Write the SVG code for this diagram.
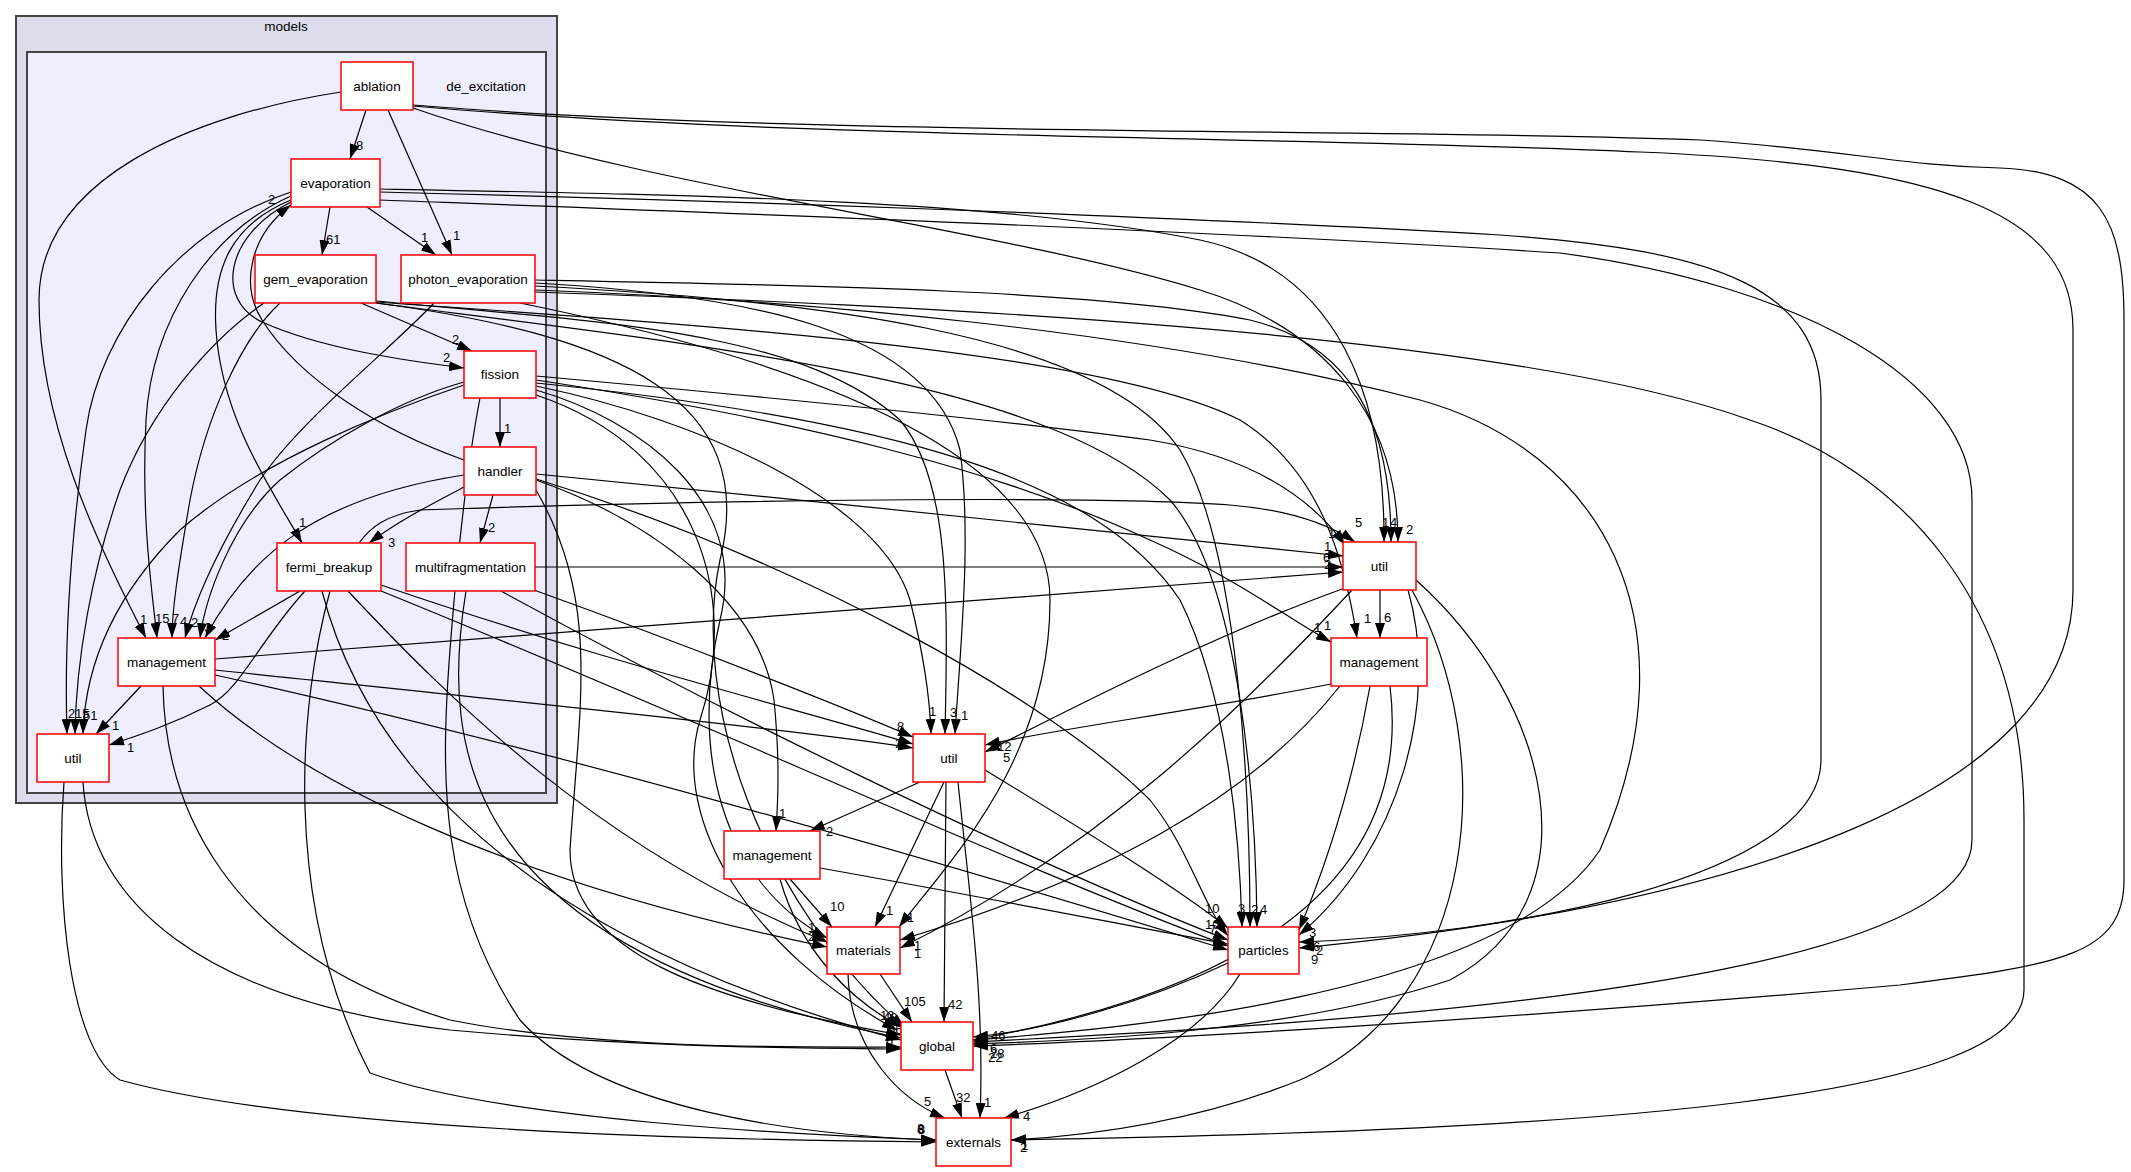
<svg xmlns="http://www.w3.org/2000/svg" width="2131" height="1172" viewBox="0 0 2131 1172">
<style>
.n rect{fill:#fff;stroke:#f00;stroke-width:1.5}
.n text,.cl{font-family:"Liberation Sans",Arial,sans-serif;font-size:13.5px;fill:#000;text-anchor:middle}
.e path{fill:none;stroke:#000;stroke-width:1.2;marker-end:url(#ah)}
.lb text{font-family:"Liberation Sans",Arial,sans-serif;font-size:13px;fill:#000}
</style>
<defs>
<marker id="ah" viewBox="0 0 15 10" refX="15" refY="5" markerWidth="15" markerHeight="10" markerUnits="userSpaceOnUse" orient="auto"><path d="M0,0L15,5L0,10z" fill="#000"/></marker>
</defs>
<rect width="2131" height="1172" fill="#fff"/>
<g id="cluster_models"><rect x="16" y="16" width="541" height="787" fill="#ddddee" stroke="#444" stroke-width="2"/><text class="cl" x="286" y="31">models</text></g>
<g id="cluster_de_excitation"><rect x="27" y="52" width="519" height="741" fill="#eeeeff" stroke="#444" stroke-width="2"/><text class="cl" x="486" y="91">de_excitation</text></g>

<g id="edges" class="e">
<path d="M366,110 L350,159"/>
<path d="M388,110 L452,255"/>
<path d="M341,92 C190,115 39,180 39,300 C39,420 95,540 146,638"/>
<path d="M413,108 C650,190 1000,228 1200,290 C1330,330 1398,420 1398,542"/>
<path d="M413,106 C800,140 1300,136 1640,152 C1950,165 2073,215 2073,330 L2073,590 C2073,790 1750,905 1299,948"/>
<path d="M413,105 C800,137 1400,128 1700,140 C1850,150 1900,166 2000,168 C2100,172 2124,220 2124,320 L2124,880 C2124,955 2060,965 1900,985 C1500,1020 1150,1040 973,1046"/>
<path d="M330,207 L322,255"/>
<path d="M367,207 L436,255"/>
<path d="M291,202 C225,235 215,300 262,322 C320,348 400,360 464,368"/>
<path d="M291,200 C230,225 212,270 216,330 C222,420 272,490 302,543"/>
<path d="M291,196 C210,232 152,320 146,420 C141,520 152,590 157,638"/>
<path d="M291,192 C180,228 100,330 86,430 C72,530 64,640 67,734"/>
<path d="M380,189 C700,195 1000,200 1200,240 C1340,270 1385,400 1384,542"/>
<path d="M380,192 C700,200 1150,215 1500,235 C1720,250 1821,290 1821,400 L1821,760 C1821,880 1500,935 1299,942"/>
<path d="M380,200 C700,212 1200,230 1560,253 C1800,285 1972,380 1972,500 L1972,840 C1972,990 1300,1025 973,1042"/>
<path d="M361,303 L472,351"/>
<path d="M280,303 C240,340 205,420 190,500 C178,570 172,610 172,638"/>
<path d="M264,303 C210,340 150,410 120,490 C92,570 76,660 75,734"/>
<path d="M376,301 C600,322 800,330 900,420 C950,480 948,600 945,734"/>
<path d="M376,302 C700,325 1100,350 1240,420 C1320,470 1345,560 1357,638"/>
<path d="M376,303 C700,345 1050,380 1170,500 C1240,580 1256,800 1257,927"/>
<path d="M376,303 C620,335 760,400 720,560 C690,700 760,900 905,1028"/>
<path d="M434,303 C390,350 300,420 260,480 C220,545 195,600 185,638"/>
<path d="M535,280 C800,285 1100,290 1250,320 C1350,345 1391,420 1391,542"/>
<path d="M535,283 C750,295 930,330 960,450 C972,540 960,650 955,734"/>
<path d="M535,286 C800,300 1100,330 1180,450 C1240,550 1250,800 1250,927"/>
<path d="M535,290 C800,300 1150,330 1420,400 C1600,450 1700,620 1600,850 C1500,1000 1100,1030 973,1040"/>
<path d="M535,292 C900,305 1500,330 1750,420 C1900,470 2024,600 2024,820 L2024,990 C2024,1100 1600,1130 1011,1140"/>
<path d="M520,303 C800,360 1050,450 1050,600 C1050,760 950,860 899,927"/>
<path d="M500,398 L500,447"/>
<path d="M464,382 C400,400 330,440 280,480 C230,525 205,600 200,638"/>
<path d="M464,385 C390,410 260,460 180,530 C110,600 85,670 83,734"/>
<path d="M536,376 C800,400 1000,420 1150,440 C1270,460 1320,510 1345,545"/>
<path d="M536,380 C800,420 1000,470 1150,540 C1240,580 1290,620 1331,642"/>
<path d="M536,386 C700,420 880,500 910,600 C925,660 930,700 931,734"/>
<path d="M536,383 C900,420 1100,480 1180,600 C1230,700 1240,850 1242,927"/>
<path d="M536,390 C640,420 750,500 720,620 C690,750 720,880 827,938"/>
<path d="M536,395 C700,450 740,600 700,720 C670,820 750,950 897,1030"/>
<path d="M480,398 C470,450 460,520 450,650 C440,780 440,900 520,1020 C600,1110 800,1135 936,1140"/>
<path d="M464,460 C380,430 300,380 262,320 C240,285 250,235 291,205"/>
<path d="M464,487 C430,505 400,520 369,543"/>
<path d="M493,495 L480,543"/>
<path d="M464,475 C320,497 250,553 205,638"/>
<path d="M536,474 C800,500 1100,530 1343,556"/>
<path d="M536,480 C650,520 760,600 774,700 C780,760 778,800 776,831"/>
<path d="M536,479 C800,560 1050,700 1150,800 C1190,850 1200,900 1228,936"/>
<path d="M536,490 C600,600 580,700 570,850 C570,950 700,1000 901,1035"/>
<path d="M359,543 C370,528 385,515 420,510 C700,500 1100,495 1230,505 C1290,510 1330,525 1355,542"/>
<path d="M300,591 L215,640"/>
<path d="M305,591 C260,640 240,690 210,705 C170,725 140,735 109,745"/>
<path d="M381,585 C600,660 800,710 913,744"/>
<path d="M381,591 C700,720 1000,860 1228,946"/>
<path d="M348,591 C450,700 600,850 827,942"/>
<path d="M322,591 C350,700 450,920 901,1040"/>
<path d="M330,591 C300,700 280,900 370,1073 C500,1120 800,1135 936,1140"/>
<path d="M535,567 L1343,567"/>
<path d="M534,590 C700,650 850,710 913,737"/>
<path d="M501,591 C700,700 1000,850 1228,940"/>
<path d="M466,591 C440,750 460,950 901,1038"/>
<path d="M141,686 L96,734"/>
<path d="M215,659 C600,630 1100,590 1343,572"/>
<path d="M215,670 C500,700 800,730 913,748"/>
<path d="M199,686 C300,780 500,880 827,947"/>
<path d="M215,675 C600,760 1000,880 1228,950"/>
<path d="M163,686 C165,800 220,950 450,1020 C600,1050 800,1047 901,1047"/>
<path d="M83,782 C90,900 200,1000 450,1030 C650,1048 800,1048 901,1049"/>
<path d="M64,782 C55,900 70,1050 120,1080 C300,1130 700,1140 936,1142"/>
<path d="M920,782 L810,831"/>
<path d="M944,782 L875,927"/>
<path d="M946,782 L944,1022"/>
<path d="M985,770 C1100,840 1180,890 1228,928"/>
<path d="M958,782 C970,900 985,1000 980,1118"/>
<path d="M1380,590 L1380,638"/>
<path d="M1345,588 C1200,640 1050,720 985,752"/>
<path d="M1352,590 C1250,700 1100,850 900,948"/>
<path d="M1408,590 C1440,700 1400,850 1299,935"/>
<path d="M1416,580 C1550,700 1600,900 1450,980 C1300,1030 1100,1040 973,1044"/>
<path d="M1412,590 C1500,750 1480,1000 1300,1080 C1200,1120 1100,1135 1011,1140"/>
<path d="M1331,684 C1200,710 1050,730 985,745"/>
<path d="M1340,686 C1250,800 1100,880 900,940"/>
<path d="M1370,686 C1350,800 1320,880 1299,930"/>
<path d="M1390,686 C1410,850 1300,980 973,1040"/>
<path d="M790,879 L832,927"/>
<path d="M820,868 C1000,900 1150,930 1228,944"/>
<path d="M780,879 C800,950 850,1000 901,1027"/>
<path d="M880,974 L912,1022"/>
<path d="M848,974 C850,1050 900,1100 945,1118"/>
<path d="M1228,963 C1150,1000 1050,1030 973,1037"/>
<path d="M1240,974 C1200,1040 1100,1090 1004,1118"/>
<path d="M945,1070 L962,1118"/>
</g>

<g id="edge_labels" class="lb">
<text x="356" y="150">8</text><text x="453" y="240">1</text><text x="140" y="624">1</text><text x="1406" y="534">2</text>
<text x="326" y="244">61</text><text x="421" y="242">1</text><text x="443" y="362">2</text><text x="299" y="527">1</text>
<text x="155" y="623">15</text><text x="68" y="718">2</text><text x="1382" y="527">1</text><text x="1309" y="937">3</text>
<text x="452" y="344">2</text><text x="172" y="623">7</text><text x="75" y="718">15</text><text x="950" y="717">3</text>
<text x="1364" y="623">1</text><text x="1260" y="914">4</text><text x="880" y="1020">13</text><text x="180" y="626">4</text>
<text x="1390" y="527">4</text><text x="961" y="720">1</text><text x="1251" y="914">2</text><text x="907" y="922">1</text>
<text x="504" y="433">1</text><text x="191" y="627">2</text><text x="83" y="720">51</text><text x="1328" y="538">1</text>
<text x="1314" y="632">1</text><text x="929" y="716">1</text><text x="1238" y="913">3</text><text x="808" y="932">1</text>
<text x="268" y="204">2</text><text x="388" y="547">3</text><text x="488" y="532">2</text><text x="204" y="632">3</text>
<text x="1324" y="551">1</text><text x="779" y="818">1</text><text x="1355" y="527">5</text><text x="222" y="640">2</text>
<text x="127" y="752">1</text><text x="895" y="748">2</text><text x="1209" y="934">7</text><text x="1323" y="562">6</text>
<text x="897" y="731">8</text><text x="112" y="730">1</text><text x="1324" y="569">2</text><text x="808" y="941">2</text>
<text x="1324" y="630">1</text><text x="1384" y="622">6</text><text x="1003" y="762">5</text><text x="914" y="950">1</text>
<text x="997" y="751">12</text><text x="914" y="958">1</text><text x="830" y="911">10</text><text x="1205" y="929">10</text>
<text x="883" y="1022">48</text><text x="888" y="1034">66</text><text x="904" y="1006">105</text><text x="924" y="1106">5</text>
<text x="991" y="1040">46</text><text x="1023" y="1121">4</text><text x="956" y="1102">32</text><text x="826" y="836">2</text>
<text x="886" y="915">1</text><text x="948" y="1009">42</text><text x="1205" y="913">10</text><text x="984" y="1107">1</text>
<text x="1313" y="951">6</text><text x="1316" y="955">2</text><text x="1311" y="964">9</text><text x="990" y="1058">28</text>
<text x="988" y="1062">22</text><text x="1020" y="1152">2</text><text x="1021" y="1150">1</text><text x="917" y="1133">3</text>
<text x="918" y="1134">8</text><text x="917" y="1134">6</text><text x="886" y="1045">6</text><text x="990" y="1053">6</text>
</g>

<g id="node_ablation" class="n"><rect x="341" y="62" width="72" height="48"/><text x="377" y="91">ablation</text></g>
<g id="node_evaporation" class="n"><rect x="291" y="159" width="89" height="48"/><text x="335.5" y="188">evaporation</text></g>
<g id="node_gem_evaporation" class="n"><rect x="255" y="255" width="121" height="48"/><text x="315.5" y="284">gem_evaporation</text></g>
<g id="node_photon_evaporation" class="n"><rect x="401" y="255" width="134" height="48"/><text x="468" y="284">photon_evaporation</text></g>
<g id="node_fission" class="n"><rect x="464" y="351" width="72" height="47"/><text x="500" y="379">fission</text></g>
<g id="node_handler" class="n"><rect x="464" y="447" width="72" height="48"/><text x="500" y="476">handler</text></g>
<g id="node_fermi_breakup" class="n"><rect x="277" y="543" width="104" height="48"/><text x="329" y="572">fermi_breakup</text></g>
<g id="node_multifragmentation" class="n"><rect x="406" y="543" width="129" height="48"/><text x="470.5" y="572">multifragmentation</text></g>
<g id="node_management_de" class="n"><rect x="118" y="638" width="97" height="48"/><text x="166.5" y="667">management</text></g>
<g id="node_util_de" class="n"><rect x="37" y="734" width="72" height="48"/><text x="73" y="763">util</text></g>
<g id="node_util_hadronic" class="n"><rect x="913" y="734" width="72" height="48"/><text x="949" y="763">util</text></g>
<g id="node_util_models" class="n"><rect x="1343" y="542" width="73" height="48"/><text x="1379.5" y="571">util</text></g>
<g id="node_management_models" class="n"><rect x="1331" y="638" width="96" height="48"/><text x="1379" y="667">management</text></g>
<g id="node_management_hadronic" class="n"><rect x="724" y="831" width="96" height="48"/><text x="772" y="860">management</text></g>
<g id="node_materials" class="n"><rect x="827" y="927" width="73" height="47"/><text x="863.5" y="955">materials</text></g>
<g id="node_particles" class="n"><rect x="1228" y="927" width="71" height="47"/><text x="1263.5" y="955">particles</text></g>
<g id="node_global" class="n"><rect x="901" y="1022" width="72" height="48"/><text x="937" y="1051">global</text></g>
<g id="node_externals" class="n"><rect x="936" y="1118" width="75" height="48"/><text x="973.5" y="1147">externals</text></g>
</svg>
